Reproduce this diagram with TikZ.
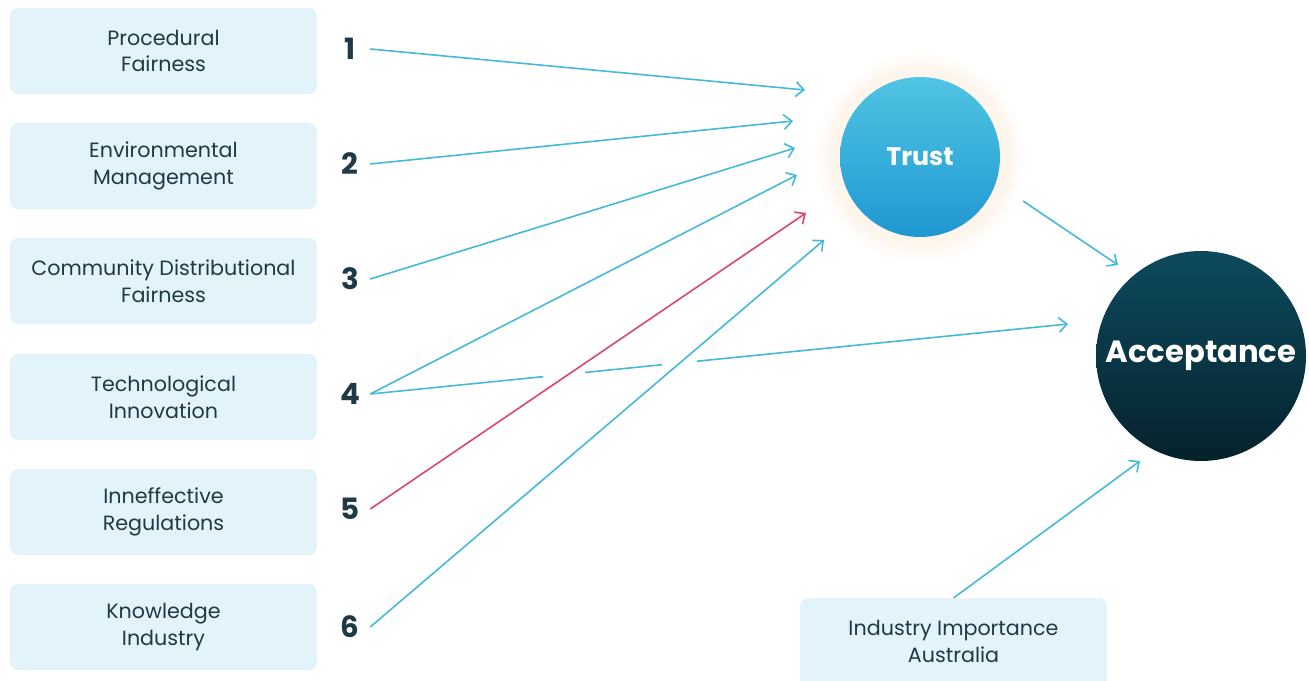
\documentclass[tikz,border=0pt]{standalone}
\usepackage{fontspec}
\setmainfont{Poppins}
\usetikzlibrary{arrows.meta,calc,shadings}

\definecolor{boxfill}{HTML}{E3F3FA}
\definecolor{ink}{HTML}{1F3A46}
\definecolor{linkblue}{HTML}{45B9D8}
\definecolor{linkred}{HTML}{D9486A}
\definecolor{halocream}{HTML}{FEF5EC}
\definecolor{trusttop}{HTML}{50C4E3}
\definecolor{trustbot}{HTML}{1F98D2}
\definecolor{acctop}{HTML}{0D4A5E}
\definecolor{accmid}{HTML}{0B4659}
\definecolor{accbot}{HTML}{05222C}

% soft cream ring behind the Trust circle
\pgfdeclareradialshading{halo}{\pgfpoint{0bp}{0bp}}{%
  color(0bp)=(halocream); color(21bp)=(halocream); color(25bp)=(white); color(50bp)=(white)}

\begin{document}
\begin{tikzpicture}[x=0.75pt,y=-0.75pt,
  factor/.style={fill=boxfill,rounded corners=6pt,minimum width=230pt,minimum height=64.5pt,
    align=center,text=ink,font=\fontsize{15.5}{20}\selectfont},
  num/.style={text=ink,font=\fontsize{22}{22}\selectfont\bfseries,minimum width=30pt,inner sep=0pt},
  link/.style={draw=linkblue,line width=1.2pt,-{Straight Barb[length=6pt,width=11pt]}},
  plain/.style={draw=linkblue,line width=1.2pt},
  neg/.style={link,draw=linkred}]
\useasboundingbox (0,0) rectangle (1309,681);
\clip (0,0) rectangle (1309,681);

% factor boxes and their numbers
\foreach \name/\txt/\y [count=\i] in {
    f1/{Procedural\\Fairness}/51,
    f2/{Environmental\\Management}/166,
    f3/{Community Distributional\\Fairness}/281,
    f4/{Technological\\Innovation}/397,
    f5/{Inneffective\\Regulations}/512,
    f6/{Knowledge\\Industry}/627}{
  \node[factor] (\name) at (163.5,\y) {\txt};
}
\node[num] (n1) at (350,49) {1};
\node[num] (n2) at (350,164) {2};
\node[num] (n3) at (350,279) {3};
\node[num] (n4) at (350,394) {4};
\node[num] (n5) at (350,509) {5};
\node[num] (n6) at (350,627) {6};

% Trust and Acceptance
\shade[shading=halo] (920,157) circle[radius=78.75pt];
\node[circle,minimum size=120pt,inner sep=0pt,top color=trusttop,bottom color=trustbot,
  text=white,font=\fontsize{19}{19}\selectfont\bfseries] (trust) at (920,157) {Trust};
\node[circle,minimum size=157.5pt,inner sep=0pt,top color=acctop,middle color=accmid,bottom color=accbot,
  text=white,font=\fontsize{23}{23}\selectfont\bfseries] (acc) at (1201,356) {Acceptance};

% bottom factor, running off the lower edge
\node[factor,anchor=north] (ind) at (953.5,598) {Industry Importance\\Australia};
\fill[boxfill] ([yshift=8pt]ind.south west) rectangle ([yshift=-20pt]ind.south east);

% arrow ends around the circles
\coordinate (t1) at (805,90);
\coordinate (t2) at (793,121);
\coordinate (t3) at (795,148);
\coordinate (t4) at (797,175);
\coordinate (t5) at (806,213);
\coordinate (t6) at (824,240);
\coordinate (tout) at (1023,201);
\coordinate (a1) at (1118,265);
\coordinate (a4) at (1068,324);
\coordinate (a7) at (1140,461);
\coordinate (s4) at (n4.east);

\draw[link] (n1.east) -- (t1);
\draw[link] (n2.east) -- (t2);
\draw[link] (n3.east) -- (t3);
\draw[link] (n4.east) -- (t4);
\draw[neg]  (n5.east) -- (t5);
\draw[link] (n6.east) -- (t6);
% 4 to Acceptance, broken where it passes under 5 and 6
\draw[plain] (s4) -- ($(s4)!0.248!(a4)$);
\draw[plain] ($(s4)!0.308!(a4)$) -- ($(s4)!0.418!(a4)$);
\draw[link] ($(s4)!0.468!(a4)$) -- (a4);
\draw[link] (tout) -- (a1);
\draw[link] (ind.north) -- (a7);
\end{tikzpicture}
\end{document}
